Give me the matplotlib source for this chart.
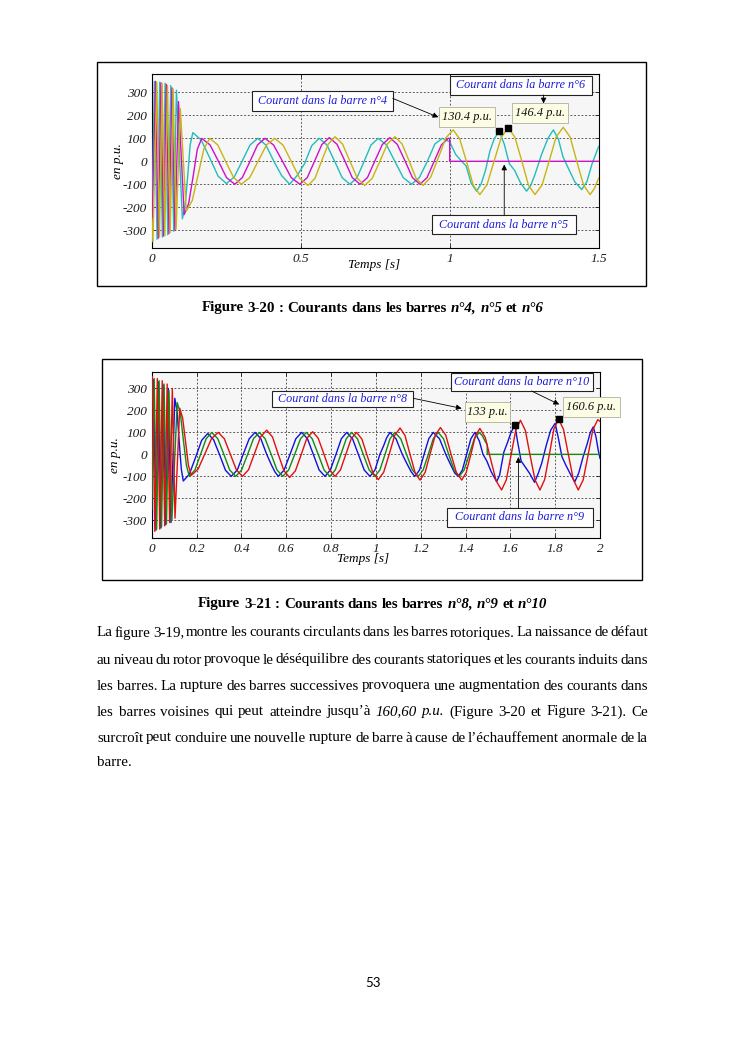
import numpy as np
import matplotlib
matplotlib.use('Agg')
import matplotlib.pyplot as plt
from matplotlib.patches import Rectangle

W, H = 745, 1053
SERIF = ['Liberation Serif', 'DejaVu Serif']

# ---------------- Figure 3-20 : barres n°4 (cyan), n°5 (magenta), n°6 (jaune)
b4_t = [0.000, 0.009, 0.018, 0.027, 0.036, 0.045, 0.054, 0.064, 0.074, 0.083, 0.103,
        0.112, 0.121, 0.129, 0.138,
        0.166, 0.195, 0.223, 0.251,
        0.277, 0.304, 0.330, 0.356,
        0.383, 0.410, 0.436, 0.463,
        0.488, 0.513, 0.537, 0.562,
        0.588, 0.614, 0.639, 0.665,
        0.689, 0.713, 0.736, 0.760,
        0.788, 0.816, 0.844, 0.872,
        0.898, 0.925, 0.950, 0.975,
        1.000, 1.020, 1.040, 1.055, 1.072, 1.090,
        1.105, 1.120, 1.135, 1.150, 1.166,
        1.183, 1.200, 1.218, 1.238, 1.258,
        1.272, 1.286, 1.308, 1.330, 1.348,
        1.365, 1.380, 1.398, 1.420, 1.443,
        1.460, 1.478, 1.500]
b4_v = [-330, 348, -340, 345, -330, 340, -320, 330, -305, 310, -250,
        -196, -62, 71, 125,
        93, 14, -65, -97,
        -68, 2, 71, 100,
        71, 0, -62, -100,
        -62, -10, 68, 100,
        71, 0, -71, -100,
        -71, 0, 71, 100,
        71, 0, -71, -100,
        -71, 0, 75, 100,
        85, 30, 0, -20, -95, -130,
        -100, -40, 45, 100, 130.4,
        75, -10, -40, -95, -130,
        -105, -58, 29, 101, 137,
        95, 20, -30, -90, -123,
        -90, -10, 65]

b5_t = [0.000, 0.013, 0.022, 0.031, 0.040, 0.049, 0.058, 0.068, 0.078, 0.090, 0.109,
        0.124, 0.139, 0.153, 0.168,
        0.196, 0.224, 0.251, 0.279,
        0.304, 0.330, 0.355, 0.380,
        0.409, 0.439, 0.468, 0.497,
        0.522, 0.547, 0.571, 0.596,
        0.622, 0.648, 0.673, 0.699,
        0.724, 0.749, 0.774, 0.799,
        0.824, 0.850, 0.875, 0.900,
        0.924, 0.948, 0.972, 0.995,
        1.000, 1.000, 1.500]
b5_v = [-350, 348, -335, 342, -325, 335, -315, 320, -300, 260, -232,
        -184, -66, 52, 100,
        71, 0, -71, -100,
        -71, 0, 71, 100,
        71, 0, -71, -100,
        -71, 2, 73, 103,
        74, 2, -71, -100,
        -71, 2, 73, 103,
        74, 2, -71, -100,
        -71, 0, 71, 100,
        100, 0, 0]

b6_t = [0.000, 0.004, 0.017, 0.026, 0.035, 0.044, 0.053, 0.062, 0.072, 0.082, 0.096, 0.116,
        0.136, 0.156, 0.175, 0.195,
        0.222, 0.248, 0.275, 0.301,
        0.329, 0.357, 0.385, 0.413,
        0.441, 0.469, 0.497, 0.525,
        0.548, 0.570, 0.593, 0.615,
        0.640, 0.665, 0.690, 0.715,
        0.740, 0.766, 0.791, 0.816,
        0.840, 0.864, 0.887, 0.911,
        0.936, 0.962, 0.987, 1.012,
        1.034, 1.057, 1.079, 1.101,
        1.125, 1.149, 1.173, 1.197,
        1.219, 1.242, 1.264, 1.286,
        1.310, 1.334, 1.357, 1.381,
        1.404, 1.426, 1.449, 1.471,
        1.485, 1.500]
b6_v = [-250, -350, 345, -330, 340, -325, 330, -310, 315, -295, 230, -217,
        -171, -58, 54, 100,
        71, 0, -71, -100,
        -71, 0, 71, 100,
        70, -2, -75, -105,
        -74, 1, 76, 107,
        76, 1, -74, -105,
        -74, 1, 76, 107,
        76, 1, -74, -105,
        -70, 16, 102, 137,
        96, -4, -104, -145,
        -103, 1, 104, 146.4,
        104, 1, -103, -145,
        -103, 2, 106, 148,
        106, 2, -103, -145,
        -120, -73]

fig20_mark_t = [1.166, 1.197]
fig20_mark_v = [130.4, 146.4]

# ---------------- Figure 3-21 : barres n°8 (bleu), n°9 (vert), n°10 (rouge)
b8_t = [0.000, 0.008, 0.019, 0.030, 0.041, 0.052, 0.063, 0.074, 0.086, 0.103,
        0.113, 0.122, 0.132, 0.141,
        0.168, 0.196, 0.223, 0.250,
        0.276, 0.303, 0.329, 0.355,
        0.382, 0.408, 0.435, 0.461,
        0.487, 0.513, 0.535, 0.550, 0.565,
        0.591, 0.617, 0.643, 0.669,
        0.695, 0.721, 0.747, 0.773,
        0.797, 0.822, 0.846, 0.870,
        0.896, 0.922, 0.948, 0.974,
        0.996, 1.018, 1.035, 1.048, 1.063,
        1.090, 1.118, 1.140, 1.158, 1.174,
        1.195, 1.215, 1.236, 1.256,
        1.284, 1.312, 1.335, 1.352, 1.368,
        1.386, 1.405, 1.424, 1.442,
        1.462, 1.478, 1.495, 1.515, 1.539,
        1.552, 1.571, 1.586, 1.603, 1.620,
        1.632, 1.648, 1.665, 1.685, 1.708,
        1.725, 1.740, 1.760, 1.780, 1.800,
        1.815, 1.830, 1.848, 1.868, 1.888,
        1.905, 1.925, 1.942, 1.957, 1.970,
        1.982, 1.992, 2.000]
b8_v = [-300, 340, -345, 330, -335, 315, -320, 300, -310, 255,
        200, 67, -66, -121,
        -90, -13, 64, 95,
        67, -2, -72, -100,
        -71, 0, 71, 100,
        71, 0, -50, -80, -100,
        -71, 0, 71, 100,
        71, 0, -71, -100,
        -71, 0, 71, 100,
        71, 0, -71, -100,
        -71, 0, 40, 75, 100,
        71, 0, -45, -80, -100,
        -71, 0, 71, 100,
        71, 0, -50, -85, -100,
        -71, 0, 71, 100,
        60, 0, -30, -80, -124,
        -95, 10, 50, 100, 133,
        60, -30, -55, -85, -127,
        -85, -40, 40, 110, 141,
        70, -10, -50, -90, -124,
        -85, -10, 45, 100, 125,
        80, 20, -18]

b9_t = [0.000, 0.011, 0.022, 0.033, 0.044, 0.055, 0.066, 0.077, 0.090, 0.114,
        0.128, 0.141, 0.155, 0.168,
        0.193, 0.218, 0.243, 0.268,
        0.295, 0.322, 0.348, 0.375,
        0.401, 0.428, 0.454, 0.480,
        0.506, 0.533, 0.559, 0.585,
        0.611, 0.638, 0.664, 0.690,
        0.716, 0.743, 0.769, 0.795,
        0.819, 0.844, 0.868, 0.892,
        0.918, 0.944, 0.970, 0.996,
        1.018, 1.041, 1.063, 1.085,
        1.111, 1.137, 1.163, 1.189,
        1.211, 1.234, 1.256, 1.278,
        1.302, 1.325, 1.349, 1.372,
        1.394, 1.417, 1.439, 1.461,
        1.475, 1.490, 1.497, 1.497, 2.000]
b9_v = [-250, 345, -340, 335, -330, 320, -315, 290, -300, 235,
        186, 68, -51, -100,
        -71, 0, 71, 100,
        71, 0, -71, -100,
        -71, 0, 71, 100,
        71, 0, -71, -100,
        -71, 0, 71, 100,
        71, 0, -71, -100,
        -71, 0, 71, 100,
        71, 0, -71, -100,
        -71, 0, 71, 100,
        71, 0, -71, -100,
        -71, 0, 71, 100,
        71, 0, -71, -100,
        -71, 0, 71, 100,
        85, 55, 45, 0, 0]

b10_t = [0.000, 0.003, 0.014, 0.025, 0.036, 0.047, 0.058, 0.069, 0.080, 0.092, 0.104, 0.125,
         0.138, 0.151, 0.164, 0.177,
         0.207, 0.237, 0.267, 0.297,
         0.324, 0.351, 0.378, 0.405,
         0.432, 0.459, 0.486, 0.513,
         0.539, 0.564, 0.590, 0.615,
         0.641, 0.667, 0.692, 0.718,
         0.743, 0.768, 0.793, 0.818,
         0.842, 0.866, 0.890, 0.914,
         0.938, 0.962, 0.987, 1.011,
         1.035, 1.060, 1.084, 1.108,
         1.130, 1.152, 1.175, 1.197,
         1.220, 1.242, 1.265, 1.288,
         1.312, 1.335, 1.359, 1.383,
         1.403, 1.424, 1.444, 1.464,
         1.488, 1.512, 1.537, 1.561,
         1.582, 1.603, 1.624, 1.645,
         1.667, 1.688, 1.710, 1.732,
         1.753, 1.774, 1.794, 1.815,
         1.837, 1.859, 1.881, 1.903,
         1.925, 1.947, 1.968, 1.990,
         2.000]
b10_v = [300, 355, -350, 345, -340, 335, -325, 320, -310, 300, -290, 210,
         166, 58, -51, -95,
         -67, 2, 72, 100,
         71, 0, -71, -100,
         -70, 5, 80, 110,
         79, 2, -74, -105,
         -75, -1, 73, 103,
         73, 2, -71, -100,
         -71, 0, 71, 100,
         69, -8, -84, -115,
         -81, 2, 86, 120,
         86, 2, -83, -117,
         -82, 2, 87, 122,
         87, 2, -82, -117,
         -83, 0, 84, 118,
         77, -22, -121, -162,
         -116, -4, 109, 155,
         109, -4, -116, -162,
         -115, -1, 114, 160.6,
         114, -1, -115, -162,
         -116, -2, 112, 158,
         150]

fig21_mark_t = [1.620, 1.815]
fig21_mark_v = [133, 160.6]

yticks = [-300, -200, -100, 0, 100, 200, 300]
fig20_xticks = [0, 0.5, 1, 1.5]
fig20_xlabels = ['0', '0.5', '1', '1.5']
fig21_xticks = [0, 0.2, 0.4, 0.6, 0.8, 1, 1.2, 1.4, 1.6, 1.8, 2]
fig21_xlabels = ['0', '0.2', '0.4', '0.6', '0.8', '1', '1.2', '1.4', '1.6', '1.8', '2']

fig = plt.figure(figsize=(W / 100, H / 100), dpi=100)
fig.patch.set_facecolor('white')


def fx(x):
    return x / W


def fy(y):
    return 1 - y / H


def frame(x0, y0, x1, y1):
    fig.add_artist(Rectangle((fx(x0), fy(y1)), (x1 - x0) / W, (y1 - y0) / H,
                             transform=fig.transFigure, fill=False, ec='black', lw=1.0))


def make_axes(x0, y0, x1, y1, xlim, ylim, xt, xl):
    ax = fig.add_axes([fx(x0), fy(y1), (x1 - x0) / W, (y1 - y0) / H])
    ax.set_facecolor('#f6f6f6')
    ax.set_xlim(xlim)
    ax.set_ylim(ylim)
    ax.set_xticks(xt)
    ax.set_xticklabels(xl)
    ax.set_yticks(yticks)
    ax.set_yticklabels([str(v) for v in yticks])
    ax.set_axisbelow(True)
    ax.grid(True, color='#404040', ls=(0, (2.2, 2.2)), lw=0.6)
    ax.tick_params(direction='in', length=3, width=0.6, top=True, right=True,
                   labelsize=9.5, pad=3.5, colors='#1a1a1a')
    for lab in ax.get_xticklabels() + ax.get_yticklabels():
        lab.set_fontfamily(SERIF)
        lab.set_fontstyle('italic')
    for sp in ax.spines.values():
        sp.set_linewidth(0.8)
        sp.set_color('black')
    return ax


def name_box(ax, x0, x1, y0, y1, text):
    ax.add_patch(Rectangle((x0, y0), x1 - x0, y1 - y0, facecolor='white',
                           edgecolor='#222222', lw=0.8, zorder=6, clip_on=False))
    ax.text((x0 + x1) / 2, (y0 + y1) / 2, text, ha='center', va='center',
            fontsize=8.7, style='italic', family=SERIF, color='#1c1cd8', zorder=7,
            clip_on=False)


def value_box(ax, x0, x1, y0, y1, text):
    ax.add_patch(Rectangle((x0, y0), x1 - x0, y1 - y0, facecolor='#fdfde6',
                           edgecolor='#b0b0a0', lw=0.6, zorder=6, clip_on=False))
    ax.text((x0 + x1) / 2, (y0 + y1) / 2, text, ha='center', va='center',
            fontsize=8.9, style='italic', family=SERIF, color='#111111', zorder=7,
            clip_on=False)


def arrow(ax, start, end):
    ax.annotate('', xy=end, xytext=start, zorder=8, annotation_clip=False,
                arrowprops=dict(arrowstyle='-|>', color='black', lw=0.6,
                                mutation_scale=8, shrinkA=0, shrinkB=0))


# ---------- chart 1
frame(96.7, 61.7, 646, 285.7)
ax1 = make_axes(151.7, 74.3, 598.7, 248.3, (0, 1.5), (-379, 379), fig20_xticks, fig20_xlabels)
ax1.plot(b4_t, b4_v, color='#22bcbc', lw=1.0, zorder=3)
ax1.plot(b5_t, b5_v, color='#cc10c8', lw=1.0, zorder=3)
ax1.plot(b6_t, b6_v, color='#c8b414', lw=1.0, zorder=3)
ax1.plot(fig20_mark_t, fig20_mark_v, 's', color='black', ms=4, zorder=5)
name_box(ax1, 0.338, 0.809, 220, 306, 'Courant dans la barre n°4')
arrow(ax1, (0.809, 274), (0.962, 192))
value_box(ax1, 0.965, 1.152, 151, 238, '130.4 p.u.')
value_box(ax1, 1.208, 1.398, 166, 253, '146.4 p.u.')
name_box(ax1, 1.001, 1.477, 289, 372, 'Courant dans la barre n°6')
arrow(ax1, (1.315, 289), (1.315, 252))
name_box(ax1, 0.940, 1.424, -317, -234, 'Courant dans la barre n°5')
arrow(ax1, (1.183, -234), (1.183, -14))
fig.text(fx(374), fy(265), 'Temps [s]', ha='center', va='center', fontsize=9.5,
         style='italic', family=SERIF)
fig.text(fx(117.7), fy(161), 'en p.u.', ha='center', va='center', fontsize=9.5,
         style='italic', family=SERIF, rotation=90)

# ---------- chart 2
frame(101.7, 359, 641.7, 580)
ax2 = make_axes(151.7, 371.7, 600, 537.7, (0, 2), (-379, 376), fig21_xticks, fig21_xlabels)
ax2.plot(b8_t, b8_v, color='#1010dd', lw=1.0, zorder=3)
ax2.plot(b9_t, b9_v, color='#138a13', lw=1.0, zorder=3)
ax2.plot(b10_t, b10_v, color='#e01010', lw=1.0, zorder=3)
ax2.plot(fig21_mark_t, fig21_mark_v, 's', color='black', ms=4, zorder=5)
name_box(ax2, 0.535, 1.167, 216, 288, 'Courant dans la barre n°8')
arrow(ax2, (1.167, 255), (1.383, 209))
value_box(ax2, 1.398, 1.599, 148, 239, '133 p.u.')
value_box(ax2, 1.834, 2.089, 171, 262, '160.6 p.u.')
name_box(ax2, 1.334, 1.967, 288, 368, 'Courant dans la barre n°10')
arrow(ax2, (1.695, 288), (1.818, 227))
name_box(ax2, 1.319, 1.967, -329, -245, 'Courant dans la barre n°9')
arrow(ax2, (1.636, -245), (1.636, -12))
fig.text(fx(363), fy(559), 'Temps [s]', ha='center', va='center', fontsize=9.5,
         style='italic', family=SERIF)
fig.text(fx(115), fy(455), 'en p.u.', ha='center', va='center', fontsize=9.5,
         style='italic', family=SERIF, rotation=90)

# ---------- page text
renderer = fig.canvas.get_renderer()
BODY = 10.8


def tw(s, size, style, weight):
    t = fig.text(0, 0, s, fontsize=size, style=style, weight=weight, family=SERIF)
    w = t.get_window_extent(renderer).width
    t.remove()
    return w


def layout_line(y, segs, size, weight='normal', x0=None, x1=None, center=None):
    # segs: (texte, italique) ; positions naturelles mesurées sur les préfixes
    sp = tw('a a', size, 'normal', weight) - tw('aa', size, 'normal', weight)
    items = []
    cursor = 0.0
    for s, ital in segs:
        st = 'italic' if ital else 'normal'
        words = s.split()
        for i, w in enumerate(words):
            pre = tw(' '.join(words[:i + 1]), size, st, weight)
            items.append((w, st, cursor + pre - tw(w, size, st, weight)))
        cursor += tw(' '.join(words), size, st, weight) + sp
    natural = cursor - sp
    extra = 0.0
    if x0 is not None and x1 is not None and len(items) > 1:
        extra = (x1 - x0 - natural) / (len(items) - 1)
    if center is not None:
        x0 = center - natural / 2
    for i, (w, st, nx) in enumerate(items):
        fig.text(fx(x0 + nx + i * extra), fy(y), w, fontsize=size, style=st,
                 weight=weight, family=SERIF, ha='left', va='center', color='black')


cap1 = [('Figure 3-20 : Courants dans les barres', False), ('n°4, n°5', True),
        ('et', False), ('n°6', True)]
cap2 = [('Figure 3-21 : Courants dans les barres', False), ('n°8, n°9', True),
        ('et', False), ('n°10', True)]
layout_line(308, cap1, BODY, 'bold', center=372.5)
layout_line(604, cap2, BODY, 'bold', center=372.5)

body = [
    [('La figure 3-19, montre les courants circulants dans les barres rotoriques. La naissance de défaut', False)],
    [('au niveau du rotor provoque le déséquilibre des courants statoriques et les courants induits dans', False)],
    [('les barres. La rupture des barres successives provoquera une augmentation des courants dans', False)],
    [('les barres voisines qui peut atteindre jusqu’à', False), ('160,60 p.u.', True),
     ('(Figure 3-20 et Figure 3-21). Ce', False)],
    [('surcroît peut conduire une nouvelle rupture de barre à cause de l’échauffement anormale de la', False)],
    [('barre.', False)],
]
body_y = [633, 660, 686, 712, 738, 763]
for i, (segs, y) in enumerate(zip(body, body_y)):
    if i < len(body) - 1:
        layout_line(y, segs, BODY, x0=97, x1=648)
    else:
        layout_line(y, segs, BODY, x0=97)

fig.text(fx(372.5), fy(983), '53', ha='center', va='center', fontsize=9.5,
         family=['Lato', 'DejaVu Sans'])

fig.savefig('out.png', dpi=100, facecolor='white')
